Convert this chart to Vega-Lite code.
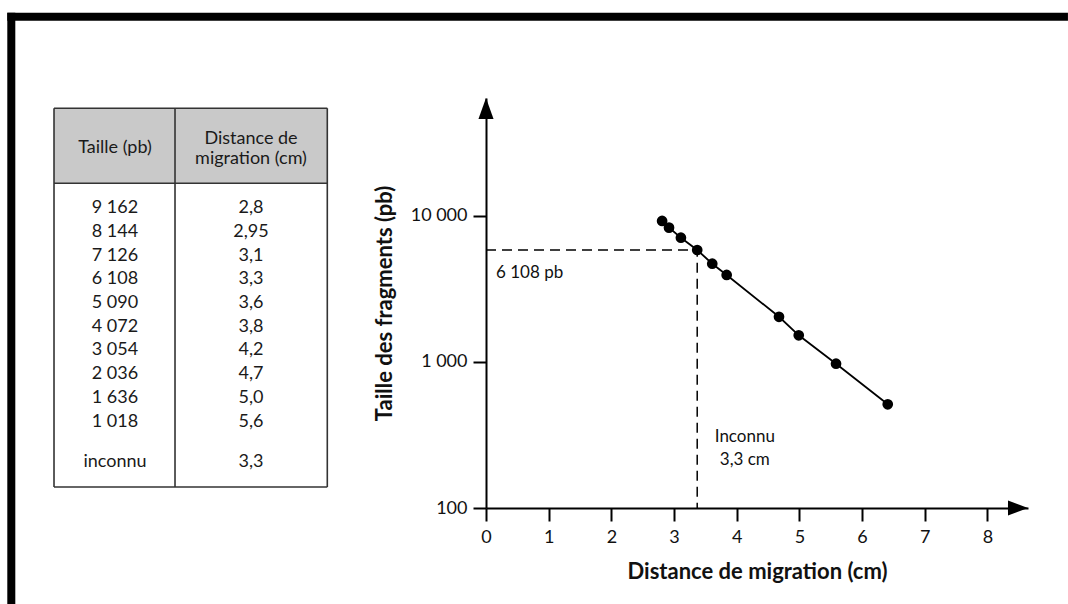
{
  "$schema": "https://vega.github.io/schema/vega-lite/v6.json",
  "width": 542,
  "height": 410,
  "autosize": {"type": "none"},
  "padding": {"left": 486, "top": 98, "right": 40, "bottom": 96},
  "background": "white",
  "config": {
    "view": {"stroke": null},
    "font": "Lato",
    "axis": {
      "domainColor": "black",
      "domainWidth": 2,
      "tickColor": "black",
      "tickWidth": 2,
      "labelColor": "#111111",
      "labelFont": "Lato",
      "labelFontSize": 18,
      "titleFont": "Lato",
      "titleFontSize": 22,
      "titleFontWeight": "bold",
      "titleColor": "#111111",
      "grid": false,
      "labelOverlap": false
    }
  },
  "datasets": {
    "etalons": [
      {"distance": 2.81, "taille": 9245},
      {"distance": 2.92, "taille": 8320},
      {"distance": 3.11, "taille": 7100},
      {"distance": 3.37, "taille": 5850},
      {"distance": 3.61, "taille": 4710},
      {"distance": 3.84, "taille": 3945},
      {"distance": 4.675, "taille": 2040},
      {"distance": 4.99, "taille": 1524},
      {"distance": 5.585, "taille": 973},
      {"distance": 6.41, "taille": 513}
    ],
    "lecture": [
      {"ordre": 1, "distance": 0, "taille": 5850},
      {"ordre": 2, "distance": 3.37, "taille": 5850},
      {"ordre": 3, "distance": 3.37, "taille": 100}
    ],
    "entetes": [
      {"col": 1, "texte": "Taille (pb)"},
      {"col": 2, "texte": "Distance de\nmigration (cm)"}
    ],
    "tableau": [
      {"rang": 0, "taille": "9 162", "distance": "2,8"},
      {"rang": 1, "taille": "8 144", "distance": "2,95"},
      {"rang": 2, "taille": "7 126", "distance": "3,1"},
      {"rang": 3, "taille": "6 108", "distance": "3,3"},
      {"rang": 4, "taille": "5 090", "distance": "3,6"},
      {"rang": 5, "taille": "4 072", "distance": "3,8"},
      {"rang": 6, "taille": "3 054", "distance": "4,2"},
      {"rang": 7, "taille": "2 036", "distance": "4,7"},
      {"rang": 8, "taille": "1 636", "distance": "5,0"},
      {"rang": 9, "taille": "1 018", "distance": "5,6"},
      {"rang": 11, "taille": "inconnu", "distance": "3,3"}
    ]
  },
  "layer": [
    {
      "data": {"name": "etalons"},
      "mark": {"type": "line", "color": "black", "strokeWidth": 1.8},
      "encoding": {
        "x": {"field": "distance", "type": "quantitative",
          "scale": {"domain": [0, 8.648], "nice": false, "zero": false},
          "axis": {"title": "Distance de migration (cm)", "values": [0, 1, 2, 3, 4, 5, 6, 7, 8], "format": "d", "tickSize": 13, "labelPadding": 7, "titlePadding": 15, "labelFlush": false}},
        "y": {"field": "taille", "type": "quantitative",
          "scale": {"type": "log", "domain": [100, 64300], "nice": false},
          "axis": {"title": "Taille des fragments (pb)", "values": [100, 1000, 10000], "labelExpr": "replace(format(datum.value, ','), ',', ' ')", "tickSize": 13, "labelPadding": 6, "titlePadding": 14, "labelFlush": false}}
      }
    },
    {
      "data": {"name": "etalons"},
      "mark": {"type": "point", "shape": "circle", "filled": true, "color": "black", "size": 115, "opacity": 1},
      "encoding": {
        "x": {"field": "distance", "type": "quantitative", "axis": null, "scale": {"domain": [0, 8.648], "nice": false, "zero": false}},
        "y": {"field": "taille", "type": "quantitative", "axis": null, "scale": {"type": "log", "domain": [100, 64300], "nice": false}}
      }
    },
    {
      "data": {"name": "lecture"},
      "mark": {"type": "line", "color": "black", "strokeWidth": 1.5, "strokeDash": [10, 6]},
      "encoding": {
        "x": {"field": "distance", "type": "quantitative", "axis": null, "scale": {"domain": [0, 8.648], "nice": false, "zero": false}},
        "y": {"field": "taille", "type": "quantitative", "axis": null, "scale": {"type": "log", "domain": [100, 64300], "nice": false}},
        "order": {"field": "ordre", "type": "quantitative"}
      }
    },
    {
      "data": {"values": [{}]},
      "mark": {"type": "text", "text": "6 108 pb", "font": "Lato", "fontSize": 17, "align": "left", "baseline": "middle", "color": "#111111"},
      "encoding": {
        "x": {"datum": 0.16, "type": "quantitative", "axis": null, "scale": {"domain": [0, 8.648], "nice": false, "zero": false}},
        "y": {"datum": 4090, "type": "quantitative", "axis": null, "scale": {"type": "log", "domain": [100, 64300], "nice": false}}
      }
    },
    {
      "data": {"values": [{}]},
      "mark": {"type": "text", "text": "Inconnu\n3,3 cm", "lineBreak": "\n", "lineHeight": 23, "font": "Lato", "fontSize": 17, "align": "center", "baseline": "middle", "color": "#111111"},
      "encoding": {
        "x": {"datum": 4.13, "type": "quantitative", "axis": null, "scale": {"domain": [0, 8.648], "nice": false, "zero": false}},
        "y": {"datum": 306, "type": "quantitative", "axis": null, "scale": {"type": "log", "domain": [100, 64300], "nice": false}}
      }
    },
    {
      "data": {"values": [{}]},
      "mark": {"type": "point", "shape": "M-1,-0.75L1,0L-1,0.75Z", "filled": true, "color": "black", "size": 400, "opacity": 1},
      "encoding": {
        "x": {"datum": 8.488, "type": "quantitative", "axis": null, "scale": {"domain": [0, 8.648], "nice": false, "zero": false}},
        "y": {"datum": 100, "type": "quantitative", "axis": null, "scale": {"type": "log", "domain": [100, 64300], "nice": false}}
      }
    },
    {
      "data": {"values": [{}]},
      "mark": {"type": "point", "shape": "M-0.72,1L0,-1L0.72,1Z", "filled": true, "color": "black", "size": 441, "opacity": 1},
      "encoding": {
        "x": {"datum": 0.00001, "type": "quantitative", "axis": null, "scale": {"domain": [0, 8.648], "nice": false, "zero": false}},
        "y": {"datum": 54500, "type": "quantitative", "axis": null, "scale": {"type": "log", "domain": [100, 64300], "nice": false}}
      }
    },
    {
      "data": {"values": [{}]},
      "mark": {"type": "rect", "fill": "#c9c9c9"},
      "encoding": {
        "x": {"datum": 0.5515, "type": "quantitative", "axis": null, "scale": {"domain": [3.7279, 7.7132], "nice": false, "zero": false}},
        "x2": {"datum": 2.561},
        "y": {"datum": -4.219, "type": "quantitative", "axis": null, "scale": {"domain": [-4.654, 12.646], "nice": false, "zero": false, "reverse": true}},
        "y2": {"datum": -1.055}
      }
    },
    {
      "data": {"values": [{}]},
      "mark": {"type": "rule", "color": "#333333", "strokeWidth": 1.6},
      "encoding": {
        "x": {"datum": 0.5515, "type": "quantitative", "axis": null, "scale": {"domain": [3.7279, 7.7132], "nice": false, "zero": false}},
        "x2": {"datum": 2.561},
        "y": {"datum": -4.219, "type": "quantitative", "axis": null, "scale": {"domain": [-4.654, 12.646], "nice": false, "zero": false, "reverse": true}}
      }
    },
    {
      "data": {"values": [{}]},
      "mark": {"type": "rule", "color": "#333333", "strokeWidth": 1.6},
      "encoding": {
        "x": {"datum": 0.5515, "type": "quantitative", "axis": null, "scale": {"domain": [3.7279, 7.7132], "nice": false, "zero": false}},
        "x2": {"datum": 2.561},
        "y": {"datum": -1.055, "type": "quantitative", "axis": null, "scale": {"domain": [-4.654, 12.646], "nice": false, "zero": false, "reverse": true}}
      }
    },
    {
      "data": {"values": [{}]},
      "mark": {"type": "rule", "color": "#333333", "strokeWidth": 1.6},
      "encoding": {
        "x": {"datum": 0.5515, "type": "quantitative", "axis": null, "scale": {"domain": [3.7279, 7.7132], "nice": false, "zero": false}},
        "x2": {"datum": 2.561},
        "y": {"datum": 11.76, "type": "quantitative", "axis": null, "scale": {"domain": [-4.654, 12.646], "nice": false, "zero": false, "reverse": true}}
      }
    },
    {
      "data": {"values": [{}]},
      "mark": {"type": "rule", "color": "#333333", "strokeWidth": 1.6},
      "encoding": {
        "x": {"datum": 0.5515, "type": "quantitative", "axis": null, "scale": {"domain": [3.7279, 7.7132], "nice": false, "zero": false}},
        "y": {"datum": -4.219, "type": "quantitative", "axis": null, "scale": {"domain": [-4.654, 12.646], "nice": false, "zero": false, "reverse": true}},
        "y2": {"datum": 11.76}
      }
    },
    {
      "data": {"values": [{}]},
      "mark": {"type": "rule", "color": "#333333", "strokeWidth": 1.6},
      "encoding": {
        "x": {"datum": 1.4412, "type": "quantitative", "axis": null, "scale": {"domain": [3.7279, 7.7132], "nice": false, "zero": false}},
        "y": {"datum": -4.219, "type": "quantitative", "axis": null, "scale": {"domain": [-4.654, 12.646], "nice": false, "zero": false, "reverse": true}},
        "y2": {"datum": 11.76}
      }
    },
    {
      "data": {"values": [{}]},
      "mark": {"type": "rule", "color": "#333333", "strokeWidth": 1.6},
      "encoding": {
        "x": {"datum": 2.561, "type": "quantitative", "axis": null, "scale": {"domain": [3.7279, 7.7132], "nice": false, "zero": false}},
        "y": {"datum": -4.219, "type": "quantitative", "axis": null, "scale": {"domain": [-4.654, 12.646], "nice": false, "zero": false, "reverse": true}},
        "y2": {"datum": 11.76}
      }
    },
    {
      "data": {"name": "entetes"},
      "transform": [{"filter": "datum.col == 1"}],
      "mark": {"type": "text", "font": "Lato", "fontSize": 18, "align": "center", "baseline": "middle", "color": "#1a1a1a"},
      "encoding": {
        "x": {"field": "col", "type": "quantitative", "axis": null, "scale": {"domain": [3.7279, 7.7132], "nice": false, "zero": false}},
        "y": {"datum": -2.565, "type": "quantitative", "axis": null, "scale": {"domain": [-4.654, 12.646], "nice": false, "zero": false, "reverse": true}},
        "text": {"field": "texte", "type": "nominal"}
      }
    },
    {
      "data": {"name": "entetes"},
      "transform": [{"filter": "datum.col == 2"}],
      "mark": {"type": "text", "font": "Lato", "fontSize": 18, "lineBreak": "\n", "lineHeight": 20, "align": "center", "baseline": "middle", "color": "#1a1a1a"},
      "encoding": {
        "x": {"field": "col", "type": "quantitative", "axis": null, "scale": {"domain": [3.7279, 7.7132], "nice": false, "zero": false}},
        "y": {"datum": -2.945, "type": "quantitative", "axis": null, "scale": {"domain": [-4.654, 12.646], "nice": false, "zero": false, "reverse": true}},
        "text": {"field": "texte", "type": "nominal"}
      }
    },
    {
      "data": {"name": "tableau"},
      "transform": [{"filter": "datum.rang < 10"}],
      "mark": {"type": "text", "font": "Lato", "fontSize": 18, "align": "center", "baseline": "middle", "color": "#1a1a1a"},
      "encoding": {
        "x": {"datum": 1, "type": "quantitative", "axis": null, "scale": {"domain": [3.7279, 7.7132], "nice": false, "zero": false}},
        "y": {"field": "rang", "type": "quantitative", "axis": null, "scale": {"domain": [-4.654, 12.646], "nice": false, "zero": false, "reverse": true}},
        "text": {"field": "taille", "type": "nominal"}
      }
    },
    {
      "data": {"name": "tableau"},
      "transform": [{"filter": "datum.rang < 10"}],
      "mark": {"type": "text", "font": "Lato", "fontSize": 18, "align": "center", "baseline": "middle", "color": "#1a1a1a"},
      "encoding": {
        "x": {"datum": 2, "type": "quantitative", "axis": null, "scale": {"domain": [3.7279, 7.7132], "nice": false, "zero": false}},
        "y": {"field": "rang", "type": "quantitative", "axis": null, "scale": {"domain": [-4.654, 12.646], "nice": false, "zero": false, "reverse": true}},
        "text": {"field": "distance", "type": "nominal"}
      }
    },
    {
      "data": {"name": "tableau"},
      "transform": [{"filter": "datum.rang > 10"}],
      "mark": {"type": "text", "font": "Lato", "fontSize": 18, "align": "center", "baseline": "middle", "dy": -7, "color": "#1a1a1a"},
      "encoding": {
        "x": {"datum": 1, "type": "quantitative", "axis": null, "scale": {"domain": [3.7279, 7.7132], "nice": false, "zero": false}},
        "y": {"field": "rang", "type": "quantitative", "axis": null, "scale": {"domain": [-4.654, 12.646], "nice": false, "zero": false, "reverse": true}},
        "text": {"field": "taille", "type": "nominal"}
      }
    },
    {
      "data": {"name": "tableau"},
      "transform": [{"filter": "datum.rang > 10"}],
      "mark": {"type": "text", "font": "Lato", "fontSize": 18, "align": "center", "baseline": "middle", "dy": -7, "color": "#1a1a1a"},
      "encoding": {
        "x": {"datum": 2, "type": "quantitative", "axis": null, "scale": {"domain": [3.7279, 7.7132], "nice": false, "zero": false}},
        "y": {"field": "rang", "type": "quantitative", "axis": null, "scale": {"domain": [-4.654, 12.646], "nice": false, "zero": false, "reverse": true}},
        "text": {"field": "distance", "type": "nominal"}
      }
    },
    {
      "data": {"values": [{}]},
      "mark": {"type": "rect", "fill": "black"},
      "encoding": {
        "x": {"datum": 0.208, "type": "quantitative", "axis": null, "scale": {"domain": [3.7279, 7.7132], "nice": false, "zero": false}},
        "x2": {"datum": 8.007},
        "y": {"datum": -8.253, "type": "quantitative", "axis": null, "scale": {"domain": [-4.654, 12.646], "nice": false, "zero": false, "reverse": true}},
        "y2": {"datum": -7.916}
      }
    },
    {
      "data": {"values": [{}]},
      "mark": {"type": "rect", "fill": "black"},
      "encoding": {
        "x": {"datum": 0.208, "type": "quantitative", "axis": null, "scale": {"domain": [3.7279, 7.7132], "nice": false, "zero": false}},
        "x2": {"datum": 0.2669},
        "y": {"datum": -8.253, "type": "quantitative", "axis": null, "scale": {"domain": [-4.654, 12.646], "nice": false, "zero": false, "reverse": true}},
        "y2": {"datum": 16.695}
      }
    }
  ],
  "resolve": {"scale": {"x": "independent", "y": "independent"}}
}
